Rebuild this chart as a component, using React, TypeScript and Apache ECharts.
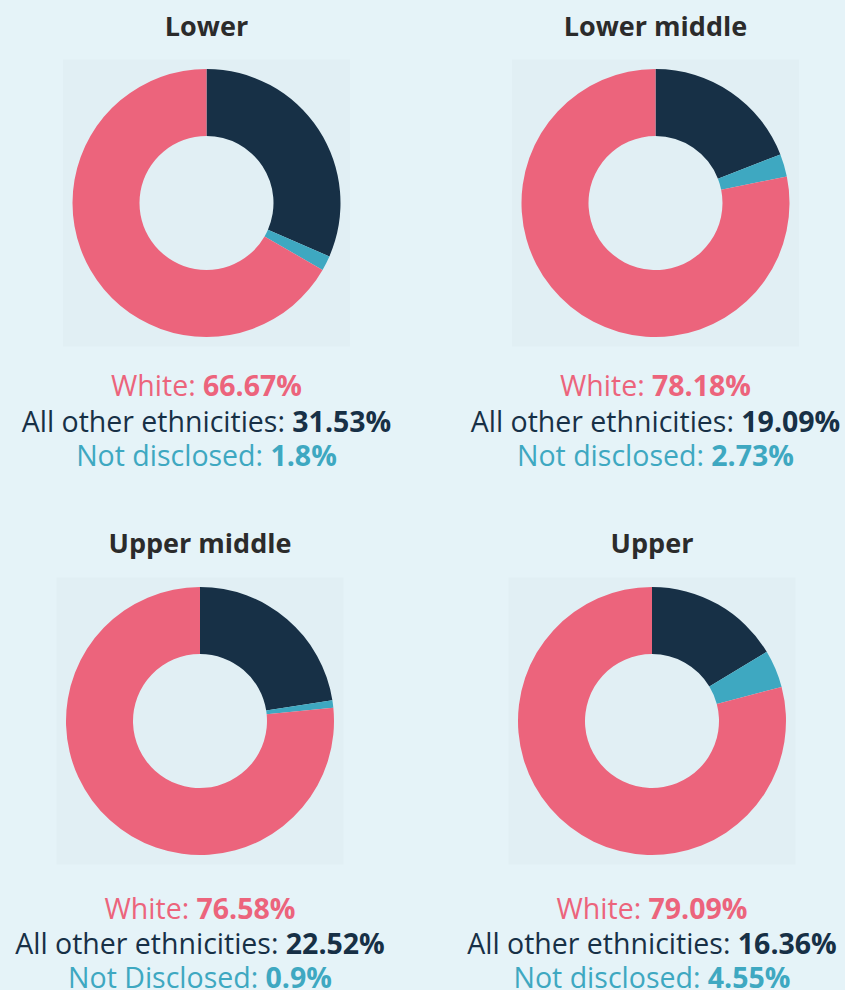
import React, { useEffect, useRef } from "react";
import * as echarts from "echarts";

const panelNames = ["Lower", "Lower middle", "Upper middle", "Upper"];
const whiteValues = [66.67, 78.18, 76.58, 79.09];
const otherValues = [31.53, 19.09, 22.52, 16.36];
const notDisclosedValues = [1.8, 2.73, 0.9, 4.55];
const notDisclosedLabels = ["Not disclosed", "Not disclosed", "Not Disclosed", "Not disclosed"];
const whiteLabel = "White";
const otherLabel = "All other ethnicities";

const PINK = "#EC647C";
const NAVY = "#173046";
const TEAL = "#3EA8C1";
const BG = "#E5F3F8";
const SQ = "#E1EFF4";
const FONT = "'Open Sans', sans-serif";

const centersX = [206.5, 655.5, 200, 652];
const centersY = [203, 203, 721, 721];
const titleY = [25, 25, 542, 542];
const textY = [[385, 421, 455], [385, 421, 455], [908, 943, 977], [908, 943, 977]];

export default function App() {
  const ref = useRef<HTMLDivElement>(null);
  useEffect(() => {
    if (!ref.current) return;
    const chart = echarts.init(ref.current, null, { renderer: "svg" });
    const fs = 28.5;
    const lh = 33;
    const rich = {
      w: { color: PINK, fontSize: fs, fontFamily: FONT, fontWeight: "normal", lineHeight: lh },
      wb: { color: PINK, fontSize: fs, fontFamily: FONT, fontWeight: "bold", lineHeight: lh },
      o: { color: NAVY, fontSize: fs, fontFamily: FONT, fontWeight: "normal", lineHeight: lh },
      ob: { color: NAVY, fontSize: fs, fontFamily: FONT, fontWeight: "bold", lineHeight: lh },
      n: { color: TEAL, fontSize: fs, fontFamily: FONT, fontWeight: "normal", lineHeight: lh },
      nb: { color: TEAL, fontSize: fs, fontFamily: FONT, fontWeight: "bold", lineHeight: lh },
    };
    const titles: any[] = [];
    const series: any[] = [];
    const graphics: any[] = [];
    panelNames.forEach((name, i) => {
      const cx = centersX[i];
      const cy = centersY[i];
      graphics.push({
        type: "rect",
        shape: { x: cx - 143.5, y: cy - 143.5, width: 287, height: 287 },
        style: { fill: SQ },
        z: -1,
      });
      titles.push({
        text: name,
        left: cx,
        top: titleY[i] - 18,
        textAlign: "center",
        padding: 0,
        textStyle: { color: "#2B2B2B", fontSize: 27, fontWeight: "bold", fontFamily: FONT, lineHeight: 36 },
      });
      const lines = [
        `{w|${whiteLabel}: }{wb|${whiteValues[i]}%}`,
        `{o|${otherLabel}: }{ob|${otherValues[i]}%}`,
        `{n|${notDisclosedLabels[i]}: }{nb|${notDisclosedValues[i]}%}`,
      ];
      lines.forEach((t, k) => {
        titles.push({
          text: t,
          left: cx,
          top: textY[i][k] - lh / 2,
          textAlign: "center",
          padding: 0,
          textStyle: { rich, fontSize: fs, lineHeight: lh },
        });
      });
      series.push({
        type: "pie",
        center: [cx, cy],
        radius: [67, 134],
        startAngle: 90,
        clockwise: true,
        label: { show: false },
        labelLine: { show: false },
        silent: true,
        itemStyle: { borderWidth: 0 },
        data: [
          { name: otherLabel, value: otherValues[i], itemStyle: { color: NAVY } },
          { name: notDisclosedLabels[i], value: notDisclosedValues[i], itemStyle: { color: TEAL } },
          { name: whiteLabel, value: whiteValues[i], itemStyle: { color: PINK } },
        ],
      });
    });
    chart.setOption({
      animation: false,
      backgroundColor: BG,
      title: titles,
      graphic: graphics,
      series,
    });
    return () => chart.dispose();
  }, []);
  return (
    <div
      ref={ref}
      style={{ position: "fixed", left: 0, top: 0, width: 845, height: 990 }}
    />
  );
}
